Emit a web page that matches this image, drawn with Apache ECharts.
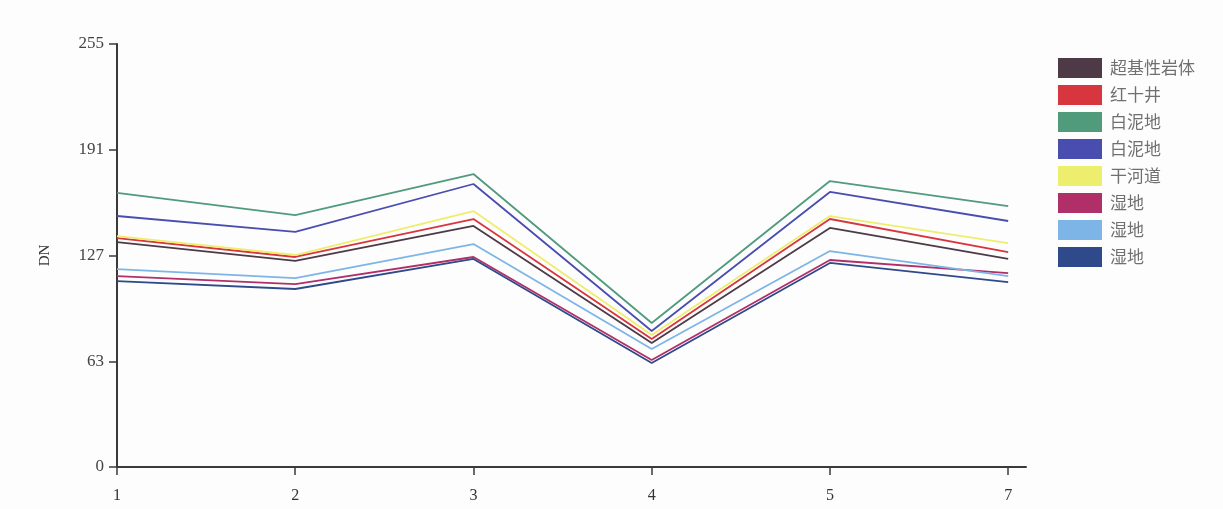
<!DOCTYPE html>
<html>
<head>
<meta charset="utf-8">
<script src="https://cdn.jsdelivr.net/npm/echarts@6/dist/echarts.min.js"></script>
<style>
html,body{margin:0;padding:0;background:#fdfdfd;}
#chart{width:1223px;height:509px;}
</style>
</head>
<body>
<div id="chart"></div>
<script>
const xTickLabels = ['1','2','3','4','5','7'];
const yTickLabels = ['0','63','127','191','255'];
const seriesNames = ['超基性岩体','红十井','白泥地','白泥地','干河道','湿地','湿地','湿地'];
const seriesColors = ['#4e3a46','#d8363e','#4f9b7c','#4a4db0','#eeee6e','#b02f69','#7db6e6','#2f4a8a'];

const ultramafic = [135.6, 124.2, 145.3, 74.7, 144.1, 125.4];
const hongshijing = [138.0, 126.6, 149.5, 77.2, 149.5, 129.6];
const bainidiGreen = [165.2, 151.9, 176.6, 86.8, 172.4, 157.3];
const bainidiBlue = [151.3, 141.7, 170.6, 82.0, 165.8, 148.3];
const ganhedao = [139.2, 127.8, 154.3, 79.6, 151.3, 135.0];
const shidiMagenta = [115.1, 110.3, 126.6, 64.5, 124.8, 116.9];
const shidiLightBlue = [119.3, 113.9, 134.4, 71.1, 130.2, 115.1];
const shidiDarkBlue = [112.1, 107.3, 125.4, 62.7, 123.0, 111.5];

const seriesValues = [ultramafic, hongshijing, bainidiGreen, bainidiBlue, ganhedao, shidiMagenta, shidiLightBlue, shidiDarkBlue];

const chart = echarts.init(document.getElementById('chart'));
const xIdx = xTickLabels.map((_, i) => i);

chart.setOption({
  backgroundColor: '#fdfdfd',
  animation: false,
  grid: {left: 117, top: 44, right: 197, bottom: 42, containLabel: false},
  legend: {
    orient: 'vertical',
    left: 1058,
    top: 58,
    padding: 0,
    icon: 'rect',
    itemWidth: 44,
    itemHeight: 20,
    itemGap: 7,
    textStyle: {color: '#707070', fontSize: 17, fontFamily: 'Noto Sans CJK SC', padding: [0,0,0,3]},
    data: seriesNames.map((n, i) => ({name: n + '\u200b'.repeat(i), itemStyle: {color: seriesColors[i]}}))
  },
  xAxis: {
    type: 'value',
    min: 0,
    max: 5.1,
    interval: 1,
    splitLine: {show: false},
    axisLine: {show: true, lineStyle: {color: '#3a3a3a', width: 2}},
    axisTick: {show: true, length: 8, lineStyle: {color: '#3a3a3a', width: 1.5}, customValues: xIdx},
    axisLabel: {
      customValues: xIdx,
      margin: 21,
      color: '#333',
      fontSize: 16,
      fontFamily: 'Liberation Serif',
      formatter: v => xTickLabels[Math.round(v)] || ''
    }
  },
  yAxis: {
    type: 'value',
    min: 0,
    max: 255,
    interval: 63.75,
    name: 'DN',
    nameLocation: 'middle',
    nameRotate: 90,
    nameGap: 64,
    nameTextStyle: {color: '#333', fontSize: 15, fontFamily: 'Liberation Serif'},
    splitLine: {show: false},
    axisLine: {show: true, lineStyle: {color: '#3a3a3a', width: 2}},
    axisTick: {show: true, length: 8, lineStyle: {color: '#3a3a3a', width: 1.5}},
    axisLabel: {
      margin: 13,
      color: '#444',
      fontSize: 17,
      fontFamily: 'Liberation Serif',
      formatter: (v, i) => yTickLabels[i]
    }
  },
  series: seriesValues.map((vals, i) => ({
    name: seriesNames[i] + '\u200b'.repeat(i),
    type: 'line',
    symbol: 'none',
    color: seriesColors[i],
    lineStyle: {width: 1.8, color: seriesColors[i]},
    data: vals.map((v, j) => [xIdx[j], v])
  }))
});
</script>
</body>
</html>
